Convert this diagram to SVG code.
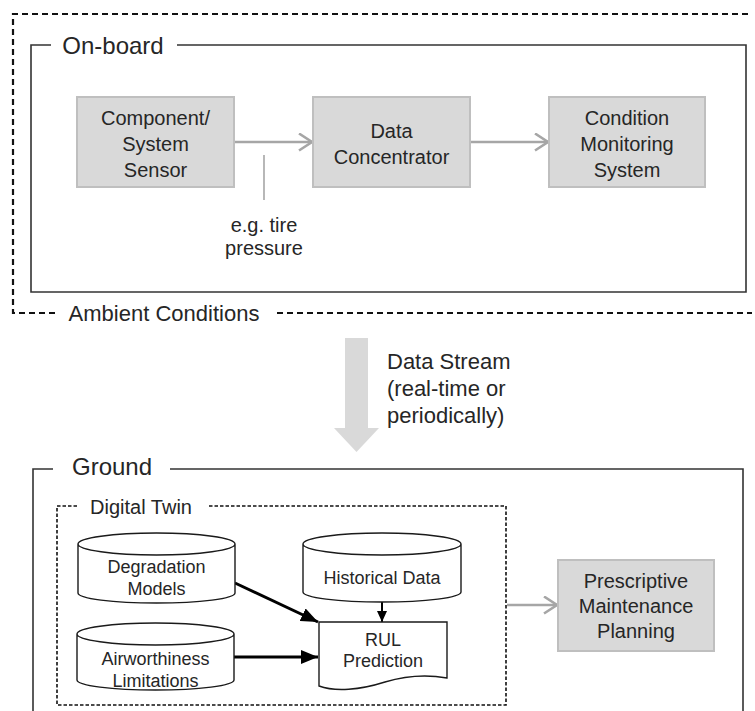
<svg xmlns="http://www.w3.org/2000/svg" width="755" height="711" viewBox="0 0 755 711">
<defs>
<style>
text{font-family:"Liberation Sans",Arial,sans-serif;fill:#262626;text-anchor:middle}
.t20{font-size:20px}
.t18{font-size:18px}
.t22{font-size:22px}
.t24{font-size:24px}
.gbox{fill:#d9d9d9;stroke:#bfbfbf;stroke-width:2}
.frame{fill:none;stroke:#333;stroke-width:1.6}
.outer{fill:none;stroke:#111;stroke-width:2.2;stroke-dasharray:6 4}
.dt{fill:none;stroke:#111;stroke-width:1.6;stroke-dasharray:3.5 2}
.cyl{fill:#fff;stroke:#1a1a1a;stroke-width:1.4}
.garrow{fill:none;stroke:#a6a6a6;stroke-width:2.6;marker-end:url(#chev)}
.barrow{fill:none;stroke:#000;stroke-width:3;marker-end:url(#tri)}
</style>
<marker id="chev" markerUnits="userSpaceOnUse" markerWidth="20" markerHeight="22" refX="14" refY="9" orient="auto">
<path d="M1,0.5 L14,9 L1,17.5" fill="none" stroke="#a6a6a6" stroke-width="2.6"/>
</marker>
<marker id="tri" markerUnits="userSpaceOnUse" markerWidth="18" markerHeight="14" refX="17" refY="7" orient="auto">
<path d="M0,0 L17,7 L0,14 Z" fill="#000"/>
</marker>
<marker id="tri2" markerUnits="userSpaceOnUse" markerWidth="12" markerHeight="10" refX="11" refY="5" orient="auto">
<path d="M0,0 L11,5 L0,10 Z" fill="#000"/>
</marker>
</defs>
<rect width="755" height="711" fill="#fff"/>

<g id="ambient">
<path class="outer" d="M55,313 H13 V14 H752"/>
<path class="outer" d="M277,313 H752"/>
<text class="t22" x="164" y="321">Ambient Conditions</text>
</g>

<g id="onboard">
<path class="frame" d="M51,45 H31 V292 H746 V45 H177"/>
<text class="t24" x="113" y="54">On-board</text>
</g>

<g id="connectors">
<line class="garrow" x1="234" y1="142" x2="312" y2="142"/>
<line class="garrow" x1="470" y1="142" x2="548" y2="142"/>
<line x1="264" y1="155" x2="264" y2="200" stroke="#a6a6a6" stroke-width="1.6"/>
<line class="garrow" x1="507" y1="605" x2="557" y2="605"/>
<line class="barrow" x1="235" y1="583" x2="318" y2="622"/>
<line class="barrow" x1="234" y1="657" x2="318" y2="657"/>
<line x1="382" y1="602" x2="382" y2="622" stroke="#000" stroke-width="2" marker-end="url(#tri2)"/>
</g>

<g id="sensor">
<rect class="gbox" x="77" y="97" width="157" height="90"/>
<text class="t20" x="155.5" y="125">Component/</text>
<text class="t20" x="155.5" y="151">System</text>
<text class="t20" x="155.5" y="177">Sensor</text>
</g>

<g id="label-tire">
<text class="t20" x="264" y="232">e.g. tire</text>
<text class="t20" x="264" y="255">pressure</text>
</g>

<g id="concentrator">
<rect class="gbox" x="313" y="97" width="157" height="90"/>
<text class="t20" x="391.5" y="138">Data</text>
<text class="t20" x="391.5" y="164">Concentrator</text>
</g>

<g id="cms">
<rect class="gbox" x="549" y="97" width="156" height="90"/>
<text class="t20" x="627" y="125">Condition</text>
<text class="t20" x="627" y="151">Monitoring</text>
<text class="t20" x="627" y="177">System</text>
</g>

<g id="datastream">
<path d="M345,338 H368 V428 H379 L356.5,452 L334,428 H345 Z" fill="#d9d9d9"/>
<text class="t22" x="387" y="369" style="text-anchor:start">Data Stream</text>
<text class="t22" x="387" y="396" style="text-anchor:start">(real-time or</text>
<text class="t22" x="387" y="423" style="text-anchor:start">periodically)</text>
</g>

<g id="ground">
<path class="frame" d="M53,469 H33 V712 M743,712 V469 H170"/>
<text class="t24" x="112" y="475">Ground</text>
</g>

<g id="digitaltwin">
<path class="dt" d="M77,506 H57 V705 H506 V506 H208"/>
<text class="t20" x="141" y="514">Digital Twin</text>
</g>

<g id="degradation">
<path class="cyl" d="M78,544 V593 A78.5,10 0 0 0 235,593 V544 A78.5,11 0 0 0 78,544 A78.5,11 0 0 0 235,544"/>
<text class="t18" x="156.5" y="573">Degradation</text>
<text class="t18" x="156.5" y="595">Models</text>
</g>

<g id="airworthiness">
<path class="cyl" d="M77,634 V680 A78.5,10 0 0 0 234,680 V634 A78.5,11 0 0 0 77,634 A78.5,11 0 0 0 234,634"/>
<text class="t18" x="155.5" y="665">Airworthiness</text>
<text class="t18" x="155.5" y="687">Limitations</text>
</g>

<g id="historical">
<path class="cyl" d="M303,544 V592 A79,10 0 0 0 461,592 V544 A79,11 0 0 0 303,544 A79,11 0 0 0 461,544"/>
<text class="t18" x="382" y="584">Historical Data</text>
</g>

<g id="rul">
<path class="cyl" d="M319,622 H447 V678 C425,674 405,676 385,682 C360,690 335,692 319,686 Z"/>
<text class="t18" x="383" y="646">RUL</text>
<text class="t18" x="383" y="667">Prediction</text>
</g>

<g id="prescriptive">
<rect class="gbox" x="558" y="560" width="156" height="91"/>
<text class="t20" x="636" y="588">Prescriptive</text>
<text class="t20" x="636" y="613">Maintenance</text>
<text class="t20" x="636" y="638">Planning</text>
</g>
</svg>
